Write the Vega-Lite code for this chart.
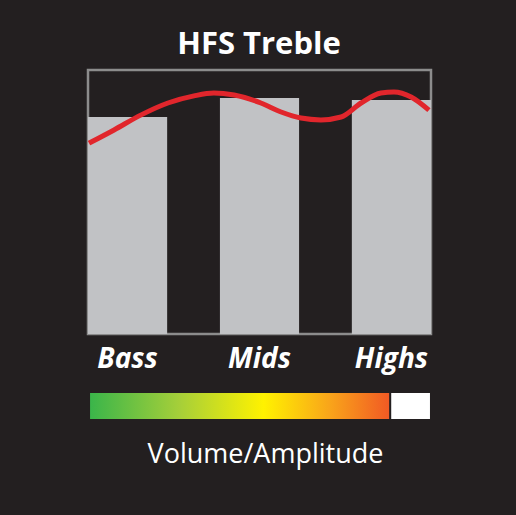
{
  "$schema": "https://vega.github.io/schema/vega-lite/v6.json",
  "background": "#231f20",
  "padding": {"left": 77, "top": 28, "right": 100, "bottom": 80},
  "title": {
    "text": "HFS Treble",
    "font": "Open Sans",
    "fontSize": 31,
    "fontWeight": "bold",
    "color": "white",
    "anchor": "middle",
    "offset": 8
  },
  "config": {
    "font": "Open Sans"
  },
  "spacing": 18,
  "vconcat": [
    {
      "width": 343,
      "height": 264,
      "view": {"stroke": "#8c8c8c", "strokeWidth": 2.5},
      "layer": [
        {
          "data": {
            "values": [
              {"band": "Bass", "level": 82.2},
              {"band": "Mids", "level": 89.4},
              {"band": "Highs", "level": 88.6}
            ]
          },
          "mark": {"type": "bar", "color": "#c1c2c5"},
          "encoding": {
            "x": {
              "field": "band", "type": "nominal", "sort": null,
              "scale": {"paddingInner": 0.4, "paddingOuter": 0},
              "axis": {
                "title": null, "ticks": false, "domain": false, "labelAngle": 0,
                "labelFont": "Open Sans", "labelFontSize": 28, "labelFontWeight": "bold",
                "labelFontStyle": "italic", "labelColor": "white", "labelPadding": 11
              }
            },
            "y": {"field": "level", "type": "quantitative", "scale": {"domain": [0, 100]}, "axis": null}
          }
        },
        {
          "data": {
            "values": [
              {"pos": 0.003, "level": 72.3},
              {"pos": 0.076, "level": 77.3},
              {"pos": 0.155, "level": 83.0},
              {"pos": 0.233, "level": 87.5},
              {"pos": 0.309, "level": 90.2},
              {"pos": 0.367, "level": 91.3},
              {"pos": 0.426, "level": 90.5},
              {"pos": 0.504, "level": 87.5},
              {"pos": 0.563, "level": 84.1},
              {"pos": 0.621, "level": 81.8},
              {"pos": 0.679, "level": 81.1},
              {"pos": 0.738, "level": 82.2},
              {"pos": 0.796, "level": 87.5},
              {"pos": 0.854, "level": 91.3},
              {"pos": 0.892, "level": 91.7},
              {"pos": 0.942, "level": 89.8},
              {"pos": 0.994, "level": 84.8}
            ]
          },
          "mark": {"type": "line", "color": "#e1262c", "strokeWidth": 5, "interpolate": "monotone"},
          "encoding": {
            "x": {"field": "pos", "type": "quantitative", "scale": {"domain": [0, 1]}, "axis": null},
            "y": {"field": "level", "type": "quantitative"}
          }
        }
      ],
      "resolve": {"scale": {"x": "independent"}}
    },
    {
      "width": 343,
      "height": 26,
      "view": {"stroke": null},
      "layer": [
        {
          "data": {"values": [{"from": 0.006, "to": 0.878}]},
          "mark": {
            "type": "rect",
            "color": {
              "gradient": "linear", "x1": 0, "y1": 0, "x2": 1, "y2": 0,
              "stops": [
                {"offset": 0, "color": "#3ab54a"},
                {"offset": 0.3, "color": "#a6cf39"},
                {"offset": 0.58, "color": "#fff200"},
                {"offset": 0.8, "color": "#f9a51a"},
                {"offset": 1, "color": "#f15a24"}
              ]
            }
          },
          "encoding": {
            "x": {
              "field": "from", "type": "quantitative", "scale": {"domain": [0, 1]},
              "axis": {
                "labels": false, "ticks": false, "domain": false, "grid": false,
                "title": "Volume/Amplitude", "titleFont": "Open Sans", "titleFontSize": 27,
                "titleFontWeight": "normal", "titleColor": "white", "titlePadding": 22,
                "titleX": 177
              }
            },
            "x2": {"field": "to"}
          }
        },
        {
          "data": {"values": [{"from": 0.884, "to": 0.997}]},
          "mark": {"type": "rect", "color": "white"},
          "encoding": {
            "x": {"field": "from", "type": "quantitative"},
            "x2": {"field": "to"}
          }
        }
      ]
    }
  ]
}
